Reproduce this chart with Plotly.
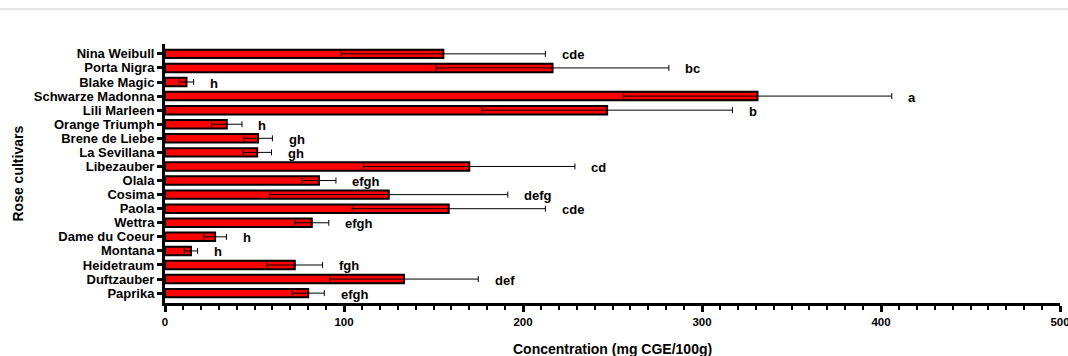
import plotly.graph_objects as go

cultivars = ["Nina Weibull", "Porta Nigra", "Blake Magic", "Schwarze Madonna", "Lili Marleen",
             "Orange Triumph", "Brene de Liebe", "La Sevillana", "Libezauber", "Olala", "Cosima",
             "Paola", "Wettra", "Dame du Coeur", "Montana", "Heidetraum", "Duftzauber", "Paprika"]
means = [155.5, 216.5, 12, 331, 247, 34.5, 52, 51.5, 170, 86, 125, 158.5, 82, 28, 14.5, 72.5, 133.5, 80]
errors = [57, 65, 4, 75, 70, 8.5, 8, 8, 59, 9.5, 66.5, 54, 9.5, 6.3, 3.7, 15.5, 41.5, 9]
letters = ["cde", "bc", "h", "a", "b", "h", "gh", "gh", "cd", "efgh", "defg", "cde", "efgh",
           "h", "h", "fgh", "def", "efgh"]
x_ticks = [0, 100, 200, 300, 400, 500]
x_title = "Concentration (mg CGE/100g)"
y_title = "Rose cultivars"

font_family = "Liberation Sans, Arial, sans-serif"

W, H = 1068, 356
L, R, T, B = 165, 8, 44, 53
plot_w = W - L - R
plot_h = H - T - B

fig = go.Figure()
fig.add_trace(go.Bar(
    x=means, y=cultivars, orientation="h",
    marker=dict(color="#ff0000", line=dict(color="#000000", width=2)),
    width=0.6,
    error_x=dict(type="data", array=errors, visible=True, color="#000000",
                 thickness=1, width=3),
    showlegend=False,
))

annotations = []
for c, m, e, t in zip(cultivars, means, errors, letters):
    annotations.append(dict(x=m + e + 8, y=c, xref="x", yref="y", text="<b>" + t + "</b>",
                            showarrow=False, xanchor="left", yanchor="middle", yshift=-1,
                            font=dict(family=font_family, size=13, color="#000000")))
annotations.append(dict(x=0.5, y=0, xref="paper", yref="paper", text="<b>" + x_title + "</b>",
                        showarrow=False, xanchor="center", yanchor="middle", yshift=-46,
                        font=dict(family=font_family, size=14, color="#000000")))
annotations.append(dict(x=(17 - L) / plot_w, y=0.5, xref="paper", yref="paper",
                        text="<b>" + y_title + "</b>", textangle=-90,
                        showarrow=False, xanchor="center", yanchor="middle",
                        font=dict(family=font_family, size=14, color="#000000")))

fig.update_layout(
    width=W, height=H,
    margin=dict(l=L, r=R, t=T, b=B),
    plot_bgcolor="white", paper_bgcolor="white",
    font=dict(family=font_family, color="#000000"),
    annotations=annotations,
    hovermode=False,
    shapes=[dict(type="line", xref="paper", yref="paper",
                 x0=-L / plot_w, x1=1 + R / plot_w, y0=1 + 35 / plot_h, y1=1 + 35 / plot_h,
                 line=dict(color="#cccccc", width=1))],
)
fig.update_xaxes(
    range=[0, 500], tickvals=x_ticks, ticktext=["<b>%d</b>" % v for v in x_ticks],
    ticks="outside", ticklen=6, tickwidth=3, tickcolor="#000000",
    minor=dict(dtick=10, ticks="outside", ticklen=4, tickwidth=2, tickcolor="#000000"),
    showline=True, linewidth=3, linecolor="#000000", showgrid=False, zeroline=False,
    ticklabeloverflow="allow", automargin=False,
    tickfont=dict(family=font_family, size=11.5, color="#000000"),
)
fig.update_yaxes(
    categoryorder="array", categoryarray=cultivars,
    range=[len(cultivars) - 0.3, -0.7],
    ticks="outside", ticklen=5, tickwidth=3, tickcolor="#000000",
    showline=True, linewidth=3, linecolor="#000000", showgrid=False, automargin=False,
    tickvals=cultivars, ticktext=["<b>" + c + "</b>" for c in cultivars],
    tickfont=dict(family=font_family, size=13, color="#000000"),
)

fig.write_html("out.html", config={"displayModeBar": False},
               post_script="document.body.style.margin='0';document.body.style.overflow='hidden';")
